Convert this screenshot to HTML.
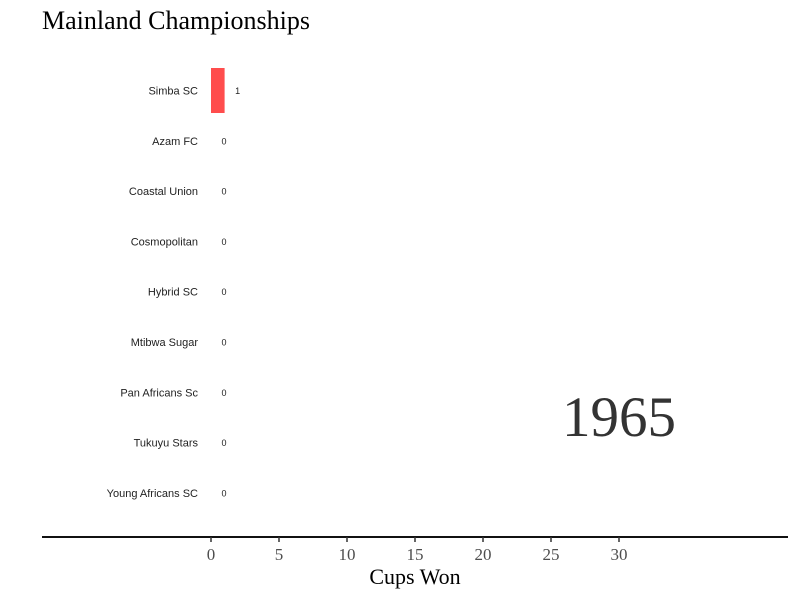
<!DOCTYPE html>
<html><head><meta charset="utf-8"><style>
body{margin:0;background:#fff}
svg{display:block}
</style></head><body>
<svg id="chart" width="800" height="600" xmlns="http://www.w3.org/2000/svg">
<text x="42" y="29" font-family="Liberation Serif, serif" font-size="26" fill="#000">Mainland Championships</text>
<text x="619" y="436" text-anchor="middle" font-family="Liberation Serif, serif" font-size="57" fill="#333">1965</text>
<line x1="42" y1="537" x2="788" y2="537" stroke="#111" stroke-width="2"/>
<g id="bars"></g><g id="ticks"></g>
<text x="415" y="584" text-anchor="middle" font-family="Liberation Serif, serif" font-size="22" fill="#000">Cups Won</text>
</svg>
<script>
const teams=["Simba SC","Azam FC","Coastal Union","Cosmopolitan","Hybrid SC","Mtibwa Sugar","Pan Africans Sc","Tukuyu Stars","Young Africans SC"];
const cups=[1,0,0,0,0,0,0,0,0];
const ticks=[0,5,10,15,20,25,30];
const NS="http://www.w3.org/2000/svg";
const x=v=>211+v*13.6;
const y=i=>90.5+i*50.3;
const bars=document.getElementById('bars'),tg=document.getElementById('ticks');
function mk(tag,attrs,parent){const e=document.createElementNS(NS,tag);for(const k in attrs)e.setAttribute(k,attrs[k]);parent.appendChild(e);return e;}
teams.forEach((t,i)=>{
  const r=mk('rect',{x:x(0),y:y(i)-22.5,width:x(cups[i])-x(0),height:45,fill:'#ff4d4d'},bars);
  
  
  const l=mk('text',{x:198,y:y(i)+4,'text-anchor':'end','font-family':'Liberation Sans, sans-serif','font-size':11,fill:'#222'},bars);
  l.textContent=t;
  
  
  const v=mk('text',{x:x(cups[i])+13,y:y(i)+3.5,'text-anchor':'middle','font-family':'Liberation Sans, sans-serif','font-size':9,fill:'#222'},bars);
  v.textContent=cups[i];
  
  
});
ticks.forEach(t=>{
  const ln=mk('line',{x1:x(t),x2:x(t),y1:537,y2:542,stroke:'#333','stroke-width':1.5},tg);
  
  
  const tx=mk('text',{x:x(t),y:560,'text-anchor':'middle','font-family':'Liberation Serif, serif','font-size':17,fill:'#4d4d4d'},tg);
  tx.textContent=t;
  
  
});
</script>
</body></html>
